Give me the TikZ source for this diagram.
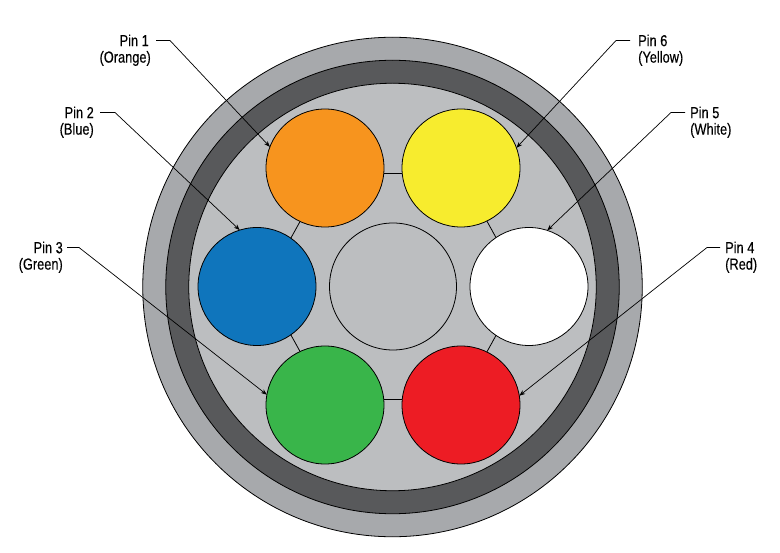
\documentclass[tikz,border=0pt]{standalone}
\usepackage{fontspec}
\usepackage{xcolor}
\setmainfont[FakeStretch=0.8,FakeBold=0.25]{Liberation Sans}
\usetikzlibrary{positioning,arrows.meta}
\definecolor{jacket}{HTML}{A7A9AC}
\definecolor{shield}{HTML}{58595B}
\definecolor{filler}{HTML}{BCBEC0}
\definecolor{pinorange}{HTML}{F7941E}
\definecolor{pinyellow}{HTML}{F7EC2E}
\definecolor{pinblue}{HTML}{0F75BC}
\definecolor{pingreen}{HTML}{39B54A}
\definecolor{pinred}{HTML}{ED1C24}
\tikzset{
  ring/.style={draw,circle,inner sep=0pt,outer sep=0pt,line width=0.8pt,minimum size=#1},
  wire/.style={ring=118pt},
  pintext/.style={inner sep=0pt,font=\fontsize{16}{16}\selectfont,text height=11.4pt,text depth=0pt},
  link/.style={line width=0.8pt},
  leader/.style={line width=0.7pt,-{Stealth[length=6pt,width=4.5pt]}}
}
\begin{document}
\begin{tikzpicture}[x=1pt,y=-1pt]
  \useasboundingbox (0,0) rectangle (780,553);
  \node[ring=499.5pt,fill=jacket] (outer) at (392.5,287) {};
  \node[ring=453.5pt,fill=shield] (shield) at (392.5,287) {};
  \node[ring=407.5pt,fill=filler] (inner) at (392.5,287) {};
  \node[ring=127pt,fill=filler] (center) at (393,286.5) {};
  \foreach \name/\x/\y/\col in {orange/325/168/pinorange,yellow/461/168/pinyellow,
      blue/257/286.5/pinblue,white/529/286.5/white,green/325/405/pingreen,red/461/405/pinred}
    \node[wire,fill=\col] (\name) at (\x,\y) {};
  % links between neighbouring wires
  \draw[link] (orange.-5) -- (yellow.185);
  \draw[link] (green.5) -- (red.175);
  \draw[link] (blue.55.5) -- (orange.-115.3);
  \draw[link] (blue.-55.5) -- (green.115.3);
  \draw[link] (yellow.-64.3) -- (white.124.5);
  \draw[link] (white.-124.5) -- (red.64.7);
  % labels on the left
  \node[pintext,anchor=east] (pin1) at (149,40.5) {Pin 1};
  \node[pintext,anchor=east] (pin2) at (94,112.5) {Pin 2};
  \node[pintext,anchor=east] (pin3) at (63,247.5) {Pin 3};
  \node[pintext,below=4.6pt of pin1.south east,anchor=north east,xshift=2pt] (col1) {(Orange)};
  \node[pintext,below=4.6pt of pin2.south east,anchor=north east] (col2) {(Blue)};
  \node[pintext,below=4.6pt of pin3.south east,anchor=north east] (col3) {(Green)};
  % labels on the right
  \node[pintext,anchor=west] (pin6) at (638,40.5) {Pin 6};
  \node[pintext,anchor=west] (pin5) at (690,112.5) {Pin 5};
  \node[pintext,anchor=west] (pin4) at (725,247.5) {Pin 4};
  \node[pintext,below=4.6pt of pin6.south west,anchor=north west] (col6) {(Yellow)};
  \node[pintext,below=4.6pt of pin5.south west,anchor=north west] (col5) {(White)};
  \node[pintext,below=4.6pt of pin4.south west,anchor=north west] (col4) {(Red)};
  % leaders
  \coordinate (knee1) at (170,40.5);
  \coordinate (knee2) at (115,112.5);
  \coordinate (knee3) at (79,247.5);
  \coordinate (knee6) at (616,40.5);
  \coordinate (knee5) at (671,112.5);
  \coordinate (knee4) at (707,247.5);
  \draw[leader,shorten <=7pt] (pin1.east) -- (knee1) -- (orange.159);
  \draw[leader,shorten <=6pt] (pin2.east) -- (knee2) -- (blue.107);
  \draw[leader,shorten <=4pt] (pin3.east) -- (knee3) -- (green.170.5);
  \draw[leader,shorten <=8pt] (pin6.west) -- (knee6) -- (yellow.20.5);
  \draw[leader,shorten <=5pt] (pin5.west) -- (knee5) -- (white.72);
  \draw[leader,shorten <=5pt] (pin4.west) -- (knee4) -- (red.9.5);
\end{tikzpicture}
\end{document}
